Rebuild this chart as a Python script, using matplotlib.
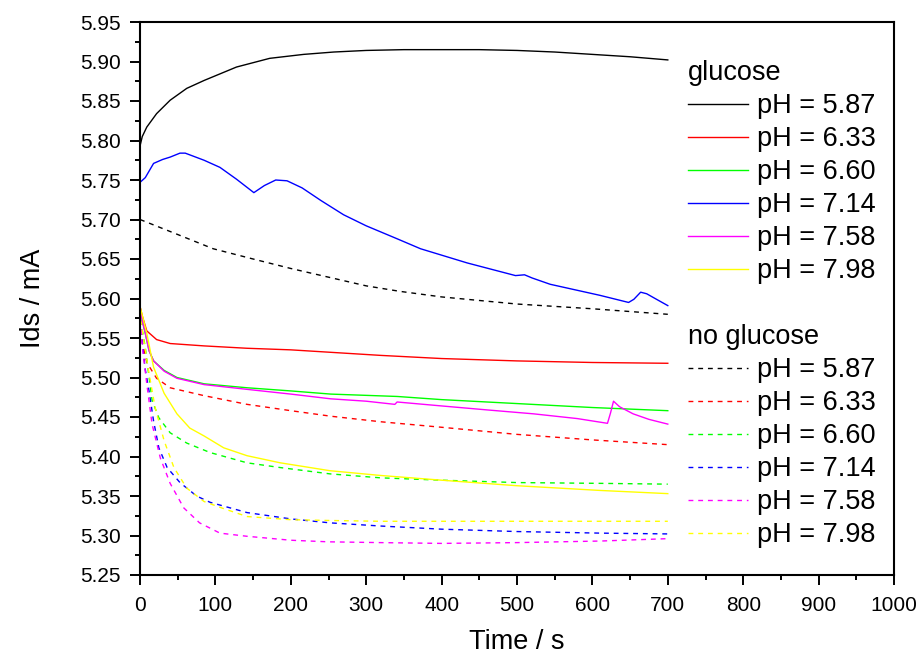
import matplotlib
matplotlib.use("Agg")
import matplotlib.pyplot as plt
from matplotlib.ticker import MultipleLocator
from matplotlib.lines import Line2D

plt.rcParams['font.family'] = ['Liberation Sans', 'DejaVu Sans']

ph_labels = ["pH = 5.87", "pH = 6.33", "pH = 6.60", "pH = 7.14", "pH = 7.58", "pH = 7.98"]
colors = ["#000000", "#ff0000", "#00ff00", "#0000ff", "#ff00ff", "#ffff00"]

# --- with glucose (solid lines) ---
t_g587 = [0, 3, 9, 22, 40, 62, 85, 128, 172, 217, 257, 300, 350, 400, 450, 500, 550, 600, 650, 700]
v_g587 = [5.793, 5.805, 5.817, 5.834, 5.851, 5.866, 5.876, 5.893, 5.904, 5.909, 5.912, 5.914,
          5.915, 5.915, 5.915, 5.914, 5.912, 5.909, 5.906, 5.902]

t_g633 = [0, 3, 9, 22, 40, 85, 142, 200, 319, 400, 500, 600, 700]
v_g633 = [5.590, 5.578, 5.559, 5.548, 5.543, 5.540, 5.537, 5.535, 5.528, 5.524, 5.521, 5.519, 5.518]

t_g660 = [0, 3, 7, 12, 18, 32, 49, 85, 142, 200, 253, 341, 400, 500, 600, 700]
v_g660 = [5.590, 5.572, 5.556, 5.534, 5.521, 5.509, 5.500, 5.492, 5.487, 5.483, 5.479, 5.476,
          5.472, 5.467, 5.462, 5.458]

t_g714 = [0, 7, 18, 30, 40, 53, 60, 85, 106, 128, 151, 165, 180, 195, 215, 240, 270, 300, 340,
          372, 434, 498, 510, 520, 544, 610, 648, 655, 664, 672, 685, 700]
v_g714 = [5.747, 5.753, 5.771, 5.776, 5.779, 5.784, 5.784, 5.775, 5.766, 5.751, 5.734, 5.743,
          5.750, 5.749, 5.740, 5.724, 5.706, 5.692, 5.676, 5.663, 5.645, 5.629, 5.630, 5.626,
          5.618, 5.604, 5.595, 5.599, 5.608, 5.606, 5.599, 5.591]

t_g758 = [0, 3, 7, 12, 18, 32, 49, 85, 142, 200, 253, 300, 338, 341, 400, 460, 522, 580, 620,
          624, 628, 636, 654, 675, 700]
v_g758 = [5.590, 5.572, 5.556, 5.534, 5.521, 5.508, 5.499, 5.491, 5.485, 5.479, 5.473, 5.470,
          5.466, 5.469, 5.464, 5.459, 5.454, 5.448, 5.442, 5.455, 5.470, 5.463, 5.454, 5.447, 5.441]

t_g798 = [0, 4, 9, 18, 32, 49, 66, 85, 111, 142, 186, 252, 319, 400, 500, 611, 700]
v_g798 = [5.590, 5.575, 5.556, 5.513, 5.480, 5.454, 5.436, 5.426, 5.411, 5.401, 5.392, 5.382,
          5.376, 5.370, 5.363, 5.357, 5.353]

# --- without glucose (dashed lines) ---
t_n587 = [0, 50, 97, 150, 200, 250, 300, 345, 400, 500, 600, 700]
v_n587 = [5.700, 5.681, 5.663, 5.650, 5.638, 5.627, 5.616, 5.609, 5.602, 5.593, 5.587, 5.580]

t_n633 = [0, 3, 9, 22, 40, 85, 142, 200, 253, 319, 400, 500, 600, 700]
v_n633 = [5.585, 5.545, 5.519, 5.499, 5.487, 5.477, 5.466, 5.458, 5.451, 5.444, 5.437, 5.428,
          5.421, 5.415]

t_n660 = [0, 3, 7, 16, 25, 40, 62, 93, 142, 186, 252, 319, 400, 500, 611, 700]
v_n660 = [5.585, 5.560, 5.538, 5.471, 5.449, 5.430, 5.417, 5.405, 5.392, 5.386, 5.378, 5.373,
          5.370, 5.367, 5.366, 5.365]

t_n714 = [0, 3, 7, 12, 18, 25, 36, 53, 75, 93, 142, 200, 252, 319, 400, 500, 611, 700]
v_n714 = [5.585, 5.545, 5.510, 5.483, 5.445, 5.411, 5.386, 5.367, 5.350, 5.342, 5.329, 5.321,
          5.316, 5.312, 5.308, 5.305, 5.303, 5.302]

t_n758 = [0, 3, 9, 16, 27, 40, 58, 79, 106, 142, 200, 250, 319, 400, 500, 611, 700]
v_n758 = [5.585, 5.540, 5.492, 5.441, 5.398, 5.366, 5.335, 5.316, 5.303, 5.299, 5.294, 5.292,
          5.291, 5.290, 5.291, 5.293, 5.296]

t_n798 = [0, 3, 7, 12, 20, 32, 45, 62, 85, 111, 142, 200, 252, 319, 400, 500, 611, 700]
v_n798 = [5.585, 5.560, 5.535, 5.505, 5.462, 5.420, 5.386, 5.360, 5.343, 5.334, 5.324, 5.320,
          5.319, 5.318, 5.318, 5.318, 5.318, 5.318]

glucose = [(t_g587, v_g587), (t_g633, v_g633), (t_g660, v_g660),
           (t_g714, v_g714), (t_g758, v_g758), (t_g798, v_g798)]
no_glucose = [(t_n587, v_n587), (t_n633, v_n633), (t_n660, v_n660),
              (t_n714, v_n714), (t_n758, v_n758), (t_n798, v_n798)]

fig = plt.figure(figsize=(9.21, 6.55), dpi=100)
ax = fig.add_axes([140 / 921, 1 - 575 / 655, (894 - 140) / 921, (575 - 22) / 655])

dash = (0, (3.5, 3.5))
for (t, v), c in zip(no_glucose, colors):
    ax.plot(t, v, color=c, lw=1.0, linestyle=dash)
for (t, v), c in zip(glucose, colors):
    ax.plot(t, v, color=c, lw=1.0)

ax.set_xlim(0, 1000)
ax.set_ylim(5.25, 5.95)
ax.xaxis.set_major_locator(MultipleLocator(100))
ax.xaxis.set_minor_locator(MultipleLocator(50))
ax.yaxis.set_major_locator(MultipleLocator(0.05))
ax.yaxis.set_minor_locator(MultipleLocator(0.025))
ax.yaxis.set_major_formatter(matplotlib.ticker.FormatStrFormatter('%.2f'))

for s in ax.spines.values():
    s.set_linewidth(1.5)
ax.tick_params(which='major', direction='out', length=7.5, width=1.4, labelsize=15,
               top=False, right=False)
ax.tick_params(axis='y', which='major', pad=6.5)
ax.tick_params(axis='x', which='major', pad=7.5)
ax.tick_params(which='minor', direction='out', length=3.8, width=1.4, top=False, right=False)

ax.set_xlabel("Time / s", fontsize=19.5, labelpad=10)
ax.set_ylabel("Ids / mA", fontsize=19.5, labelpad=24)

def make_legend(title, style, top_px):
    handles = [Line2D([], [], color=c, lw=1.0, linestyle=style) for c in colors]
    leg = ax.legend(handles, ph_labels, title=title, loc='upper left',
                    bbox_to_anchor=(688 / 921, 1 - top_px / 655),
                    bbox_transform=fig.transFigure, frameon=False, fontsize=19.5,
                    title_fontsize=19.5, handlelength=2.2, handletextpad=0.35,
                    labelspacing=0.26, borderpad=0, borderaxespad=0, alignment='left')
    return leg

leg1 = make_legend("glucose", '-', 60)
ax.add_artist(leg1)
leg2 = make_legend("no glucose", dash, 324)

fig.savefig("out.png", dpi=100)
